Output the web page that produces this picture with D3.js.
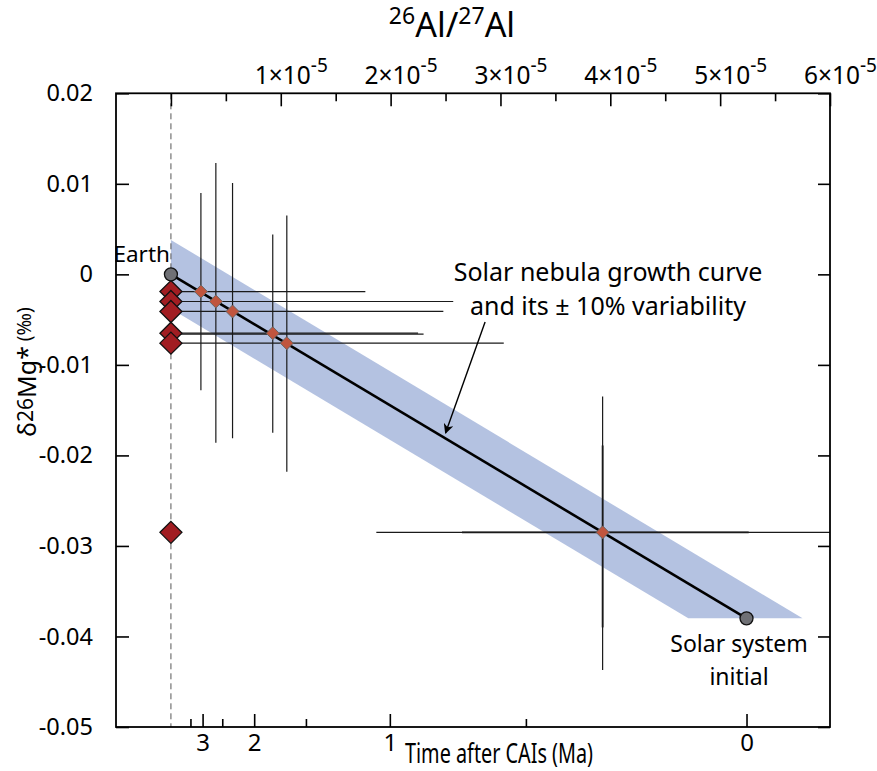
<!DOCTYPE html>
<html>
<head>
<meta charset="utf-8">
<script src="https://cdn.jsdelivr.net/npm/d3@7"></script>
<style>
  html, body { margin: 0; padding: 0; background: #fff; }
  svg { display: block; font-family: "Noto Sans", "Open Sans", sans-serif; }
</style>
</head>
<body>
<svg id="chart" width="877" height="771"></svg>
<script>
// ---------- data (26Al/27Al in units of 1e-5, delta26Mg* in permil) ----------
const yTicks = [0.02, 0.01, 0, -0.01, -0.02, -0.03, -0.04, -0.05];
const yTickLabels = ["0.02", "0.01", "0", "-0.01", "-0.02", "-0.03", "-0.04", "-0.05"];
const alMajorTicks = [0, 1, 2, 3, 4, 5, 6];
const alMinorTicks = [0.5, 1.5, 2.5, 3.5, 4.5, 5.5];
const alTickLabels = ["", "1", "2", "3", "4", "5", "6"];
const timeMajorTicks = [0, 1, 2, 3];
const timeMinorTicks = [0.5, 1.5, 2.5, 3.5];
const timeTickLabels = ["0", "1", "2", "3"];

// reference points (gray circles)
const refNames = ["Earth", "Solar system initial"];
const refAl = [0, 5.24];
const refDelta = [0, -0.038];

// measured samples (red diamonds at Al = 0)
const sampleDelta = [-0.0019, -0.0030, -0.0041, -0.0065, -0.0076, -0.0285];

// projected points on growth curve (orange diamonds)
const projAl = [0.273, 0.409, 0.561, 0.927, 1.055, 3.93];
const projDelta = [-0.0019, -0.0030, -0.0041, -0.0065, -0.0076, -0.0285];

// vertical error bars (delta range) at projected Al
const vBarAl = [0.273, 0.409, 0.561, 0.927, 1.055, 3.93, 3.93];
const vBarHigh = [0.0090, 0.0123, 0.0101, 0.0044, 0.0065, -0.0189, -0.0135];
const vBarLow = [-0.0128, -0.0186, -0.0181, -0.0175, -0.0218, -0.0390, -0.0437];
const vBarHeavy = [false, false, false, false, false, true, false];

// horizontal error bars (Al range) at sample delta
const hBarDelta = [-0.0019, -0.0030, -0.0041, -0.0065, -0.0066, -0.0076, -0.0285, -0.0285];
const hBarFrom = [0, 0, 0, 0, 0, 0, 2.65, 1.87];
const hBarTo = [1.77, 2.57, 2.48, 2.25, 2.30, 3.03, 5.26, 6.0];
const hBarHeavy = [false, false, false, false, false, false, true, false];

// +/- 10% variability band
const bandAl = [0, 5.75, 4.71, 0];
const bandDelta = [0.0038, -0.038, -0.038, -0.0038];

// ---------- layout ----------
const W = 877, H = 771;
const pL = 116, pR = 830, pT = 93.3, pB = 727;
const svg = d3.select("#chart");

const x = d3.scaleLinear().domain([-0.5, 6]).range([pL, pR]);
const y = d3.scaleLinear().domain([0.02, -0.05]).range([pT, pB]);

// time (Ma) -> 26Al/27Al (1e-5), half-life 0.717 Ma
const R0 = 5.24, halfLife = 0.717;
const tToAl = t => R0 * Math.pow(2, -t / halfLife);

const clipId = "plotclip";
const defs = svg.append("defs");
defs.append("clipPath").attr("id", clipId)
  .append("rect").attr("x", pL).attr("y", pT).attr("width", pR - pL).attr("height", pB - pT);

defs.append("marker")
  .attr("id", "arrow").attr("viewBox", "0 0 10 10").attr("refX", 9).attr("refY", 5)
  .attr("markerWidth", 14).attr("markerHeight", 10).attr("orient", "auto-start-reverse")
  .attr("markerUnits", "userSpaceOnUse")
  .append("path").attr("d", "M0,0 L10,5 L0,10 L3,5 Z").attr("fill", "#000");

const plot = svg.append("g").attr("clip-path", `url(#${clipId})`);

// band
plot.append("path")
  .attr("d", d3.line()(bandAl.map((a, i) => [x(a), y(bandDelta[i])])) + "Z")
  .attr("fill", "#b4c2e1");

// dashed line at Al = 0
plot.append("line")
  .attr("x1", x(0)).attr("x2", x(0)).attr("y1", pT).attr("y2", pB)
  .attr("stroke", "#555").attr("stroke-width", 1).attr("stroke-dasharray", "6,4");

// error bars
plot.selectAll("line.vbar").data(vBarAl).join("line").attr("class", "vbar")
  .attr("x1", d => x(d)).attr("x2", d => x(d))
  .attr("y1", (d, i) => y(vBarHigh[i])).attr("y2", (d, i) => y(vBarLow[i]))
  .attr("stroke", "#1a1a1a").attr("stroke-width", (d, i) => vBarHeavy[i] ? 1.8 : 1.2);

plot.selectAll("line.hbar").data(hBarDelta).join("line").attr("class", "hbar")
  .attr("y1", d => y(d)).attr("y2", d => y(d))
  .attr("x1", (d, i) => x(hBarFrom[i])).attr("x2", (d, i) => x(hBarTo[i]))
  .attr("stroke", "#1a1a1a").attr("stroke-width", (d, i) => hBarHeavy[i] ? 1.8 : 1.2);

// growth curve
plot.append("line")
  .attr("x1", x(refAl[0])).attr("y1", y(refDelta[0]))
  .attr("x2", x(refAl[1])).attr("y2", y(refDelta[1]))
  .attr("stroke", "#000").attr("stroke-width", 2.6);

// sample diamonds (red)
const diamond = r => `M0,${-r} L${r},0 L0,${r} L${-r},0 Z`;
plot.selectAll("path.sample").data(sampleDelta).join("path").attr("class", "sample")
  .attr("transform", d => `translate(${x(0)},${y(d)})`)
  .attr("d", diamond(11))
  .attr("fill", "#a11d22").attr("stroke", "#111").attr("stroke-width", 1.3);

// projected diamonds (orange)
plot.selectAll("path.proj").data(projDelta).join("path").attr("class", "proj")
  .attr("transform", (d, i) => `translate(${x(projAl[i])},${y(d)})`)
  .attr("d", diamond(6.5))
  .attr("fill", "#c0553e").attr("stroke", "#666").attr("stroke-width", 1);

// reference circles
plot.selectAll("circle.ref").data(refAl).join("circle").attr("class", "ref")
  .attr("cx", d => x(d)).attr("cy", (d, i) => y(refDelta[i])).attr("r", 6.5)
  .attr("fill", "#6f7075").attr("stroke", "#111").attr("stroke-width", 1.3);

// frame
svg.append("rect").attr("x", pL).attr("y", pT).attr("width", pR - pL).attr("height", pB - pT)
  .attr("fill", "none").attr("stroke", "#000").attr("stroke-width", 1.8);

// ---------- axes ----------
const tickStyle = g => { g.select(".domain").remove(); g.selectAll(".tick line").attr("stroke", "#000").attr("stroke-width", 1.6); };

// left
svg.append("g").attr("transform", `translate(${pL},0)`)
  .call(d3.axisLeft(y).tickValues(yTicks).tickSizeInner(-13).tickSizeOuter(0).tickPadding(23)
    .tickFormat((d, i) => yTickLabels[i]))
  .call(tickStyle)
  .call(g => g.selectAll("text").attr("font-size", 23.5).attr("fill", "#000").attr("font-family", "Noto Sans"));

// right
svg.append("g").attr("transform", `translate(${pR},0)`)
  .call(d3.axisRight(y).tickValues(yTicks).tickSizeInner(-12).tickSizeOuter(0).tickFormat(""))
  .call(tickStyle);

// top major/minor
svg.append("g").attr("transform", `translate(0,${pT})`)
  .call(d3.axisTop(x).tickValues(alMajorTicks).tickSizeInner(-13).tickSizeOuter(0).tickFormat(""))
  .call(tickStyle);
svg.append("g").attr("transform", `translate(0,${pT})`)
  .call(d3.axisTop(x).tickValues(alMinorTicks).tickSizeInner(-8).tickSizeOuter(0).tickFormat(""))
  .call(tickStyle);

// top labels with superscript
const topLab = svg.append("g").attr("font-size", 25).attr("fill", "#000");
alMajorTicks.forEach((v, i) => {
  if (!alTickLabels[i]) return;
  const t = topLab.append("text").attr("x", x(v) - 26).attr("y", 84);
  t.append("tspan").attr("textLength", 56).attr("lengthAdjust", "spacingAndGlyphs").text(alTickLabels[i] + "\u00d710");
  t.append("tspan").attr("dy", -12).attr("font-size", 19).text("-5");
});

// bottom (time) axis
const timeMajorAl = timeMajorTicks.map(tToAl);
const timeMinorAl = timeMinorTicks.map(tToAl);
svg.append("g").attr("transform", `translate(0,${pB})`)
  .call(d3.axisBottom(x).tickValues(timeMajorAl).tickSizeInner(-13).tickSizeOuter(0).tickPadding(7)
    .tickFormat((d, i) => timeTickLabels[i]))
  .call(tickStyle)
  .call(g => g.selectAll("text").attr("font-size", 24).attr("fill", "#000").attr("font-family", "Noto Sans"));
svg.append("g").attr("transform", `translate(0,${pB})`)
  .call(d3.axisBottom(x).tickValues(timeMinorAl).tickSizeInner(-8).tickSizeOuter(0).tickFormat(""))
  .call(tickStyle);

// ---------- titles ----------
const topTitle = svg.append("text").attr("x", 452).attr("y", 37).attr("text-anchor", "middle")
  .attr("font-size", 34).attr("fill", "#000");
topTitle.append("tspan").attr("font-size", 23).attr("dy", -13).text("26");
topTitle.append("tspan").attr("dy", 13).text("Al/");
topTitle.append("tspan").attr("font-size", 23).attr("dy", -13).text("27");
topTitle.append("tspan").attr("dy", 13).text("Al");

svg.append("text").attr("x", 405).attr("y", 763).attr("font-size", 27).attr("fill", "#000")
  .attr("textLength", 188).attr("lengthAdjust", "spacingAndGlyphs")
  .text("Time after CAIs (Ma)");

const yTitle = svg.append("text").attr("transform", "translate(36,372) rotate(-90)")
  .attr("text-anchor", "middle").attr("font-size", 25).attr("fill", "#000");
yTitle.append("tspan").text("\u03b4");
yTitle.append("tspan").attr("font-size", 21).attr("dy", -3).text("26");
yTitle.append("tspan").attr("dy", 3).text("Mg*");
yTitle.append("tspan").attr("font-size", 19).attr("dy", -5).text(" (\u2030)");

// ---------- annotations ----------
svg.append("text").attr("x", x(refAl[0]) - 1).attr("y", y(refDelta[0]) - 12)
  .attr("text-anchor", "end").attr("font-size", 22.5).attr("fill", "#000").text(refNames[0]);

const ssLab = svg.append("text").attr("text-anchor", "middle").attr("font-size", 23).attr("fill", "#000");
ssLab.append("tspan").attr("x", 739).attr("y", 652).text("Solar system");
ssLab.append("tspan").attr("x", 739).attr("y", 685).text("initial");

const ann = svg.append("text").attr("text-anchor", "middle").attr("font-size", 25).attr("fill", "#000");
ann.append("tspan").attr("x", 608).attr("y", 281).text("Solar nebula growth curve");
ann.append("tspan").attr("x", 608).attr("y", 315).text("and its \u00b1 10% variability");

svg.append("line")
  .attr("x1", x(2.86)).attr("y1", y(-0.00526))
  .attr("x2", x(2.50)).attr("y2", y(-0.01752))
  .attr("stroke", "#000").attr("stroke-width", 1.4).attr("marker-end", "url(#arrow)");
</script>
</body>
</html>
